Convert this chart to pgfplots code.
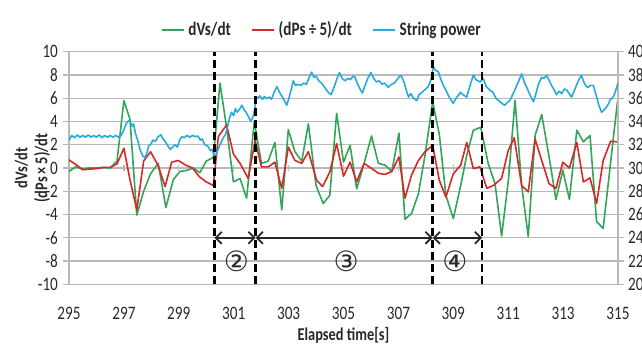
\documentclass[border=0pt]{standalone}
\usepackage{pgfplots}
\pgfplotsset{compat=1.18}
\usepackage{fontspec}
\setmainfont{Carlito}[FakeStretch=0.8]
\newfontfamily\dejavu{DejaVu Sans}
\usetikzlibrary{arrows.meta}
\definecolor{cgreen}{RGB}{50,165,90}
\definecolor{cred}{RGB}{215,40,40}
\definecolor{cblue}{RGB}{40,170,220}
\definecolor{cgrid}{RGB}{185,185,185}
\definecolor{ctext}{RGB}{40,40,40}

\pgfplotstableread{
t v
295.0 -0.3
295.25 0.1
295.5 -0.1
295.75 0.0
296.0 0.0
296.25 0.05
296.5 0.0
296.75 0.6
297.0 5.8
297.22 4.2
297.47 -4.05
297.72 -2.0
297.97 -0.5
298.25 0.4
298.53 -3.4
298.8 -1.0
299.04 -0.3
299.3 -0.2
299.53 0.0
299.77 -0.4
300.0 0.6
300.26 0.9
300.5 7.3
300.74 3.5
300.99 -1.2
301.23 -0.9
301.47 -2.6
301.75 4.0
302.01 0.4
302.26 0.6
302.5 2.2
302.75 -3.6
302.99 3.3
303.23 1.4
303.48 0.6
303.72 3.8
304.0 -1.5
304.26 -3.05
304.5 -2.35
304.75 4.7
305.0 0.5
305.24 1.95
305.48 -1.8
305.75 0.4
306.02 2.75
306.27 0.4
306.51 0.25
306.76 -0.3
307.02 3.0
307.24 -4.4
307.48 -3.9
307.73 -2.2
307.97 1.1
308.25 5.7
308.49 2.9
308.73 -2.35
309.0 -4.35
309.27 -1.5
309.49 1.1
309.73 3.25
310.0 3.5
310.27 0.4
310.52 -1.35
310.76 -5.85
311.0 -1.2
311.25 5.8
311.49 -1.5
311.73 -5.9
311.98 2.8
312.22 4.6
312.49 0.95
312.74 -2.7
312.99 -0.2
313.23 -2.7
313.5 3.25
313.74 2.25
313.98 2.8
314.22 -4.6
314.46 -5.2
314.98 5.7
}\dvs

\pgfplotstableread{
t v
295.0 0.7
295.25 0.3
295.5 -0.15
295.75 -0.1
296.0 -0.05
296.25 0.05
296.5 0.05
296.75 0.35
297.0 1.7
297.22 -1.0
297.47 -3.6
297.72 0.6
297.97 1.4
298.25 0.2
298.5 -1.6
298.74 0.5
298.98 0.65
299.25 0.25
299.5 0.0
299.75 -0.75
300.0 -1.2
300.26 -1.5
300.44 2.7
300.74 3.7
300.99 1.2
301.23 0.4
301.53 -0.9
301.78 2.4
302.01 0.1
302.26 0.1
302.5 0.5
302.75 -1.75
302.99 1.8
303.23 0.65
303.48 0.4
303.72 1.4
304.02 -1.05
304.24 -1.6
304.5 -0.35
304.75 2.1
305.0 -0.7
305.24 0.5
305.48 -1.2
305.75 0.4
306.03 -0.05
306.27 -0.45
306.51 -0.55
306.76 -0.3
307.02 0.95
307.24 -2.6
307.48 -0.6
307.73 0.65
307.97 1.4
308.25 1.95
308.49 -1.05
308.73 -2.5
309.0 -0.5
309.27 0.25
309.49 2.2
309.73 -0.05
309.97 0.1
310.22 -1.75
310.46 -1.5
310.76 -0.9
311.0 1.5
311.22 2.6
311.49 -1.5
311.73 -2.05
311.98 2.5
312.22 0.65
312.49 -1.35
312.74 -1.75
312.99 0.5
313.23 0.0
313.5 2.2
313.74 -1.2
313.98 -0.85
314.22 -3.05
314.46 0.65
314.73 2.3
314.98 2.25
}\dps

\pgfplotstableread{
t p
295.0 32.4
295.1 32.8
295.2 32.6
295.3 32.85
295.4 32.65
295.5 32.8
295.6 32.65
295.7 32.85
295.8 32.65
295.9 32.8
296.0 32.65
296.1 32.85
296.2 32.6
296.3 32.8
296.4 32.65
296.5 32.8
296.6 32.65
296.7 32.8
296.8 32.65
296.9 32.8
297.0 33.3
297.1 33.9
297.2 34.1
297.3 33.6
297.35 33.8
297.42 33.0
297.5 32.4
297.6 31.5
297.7 31.0
297.78 30.9
297.85 31.4
297.9 31.9
298.0 32.1
298.05 32.4
298.15 32.3
298.25 32.7
298.35 32.85
298.4 32.6
298.5 32.3
298.6 31.9
298.69 31.6
298.8 31.85
298.87 32.0
298.95 31.8
299.05 32.5
299.12 32.7
299.2 32.6
299.3 32.8
299.4 32.65
299.5 32.8
299.6 32.7
299.7 32.75
299.78 32.4
299.85 32.5
299.95 32.0
300.05 31.9
300.15 31.5
300.22 31.6
300.3 30.9
300.38 31.3
300.45 31.7
300.52 32.1
300.6 32.5
300.7 32.9
300.78 33.6
300.85 34.3
300.92 34.8
301.0 34.5
301.06 35.1
301.12 34.8
301.2 35.0
301.3 35.4
301.38 35.0
301.45 34.8
301.54 34.4
301.62 34.0
301.7 34.4
301.78 35.2
301.8 36.1
301.88 36.0
301.95 36.2
302.05 35.9
302.12 36.15
302.2 35.95
302.3 36.1
302.38 35.9
302.47 36.5
302.57 37.0
302.65 36.6
302.72 36.3
302.8 36.0
302.93 35.4
303.0 35.9
303.1 36.8
303.17 37.5
303.25 37.1
303.35 37.2
303.45 37.1
303.55 37.3
303.65 37.2
303.75 37.8
303.84 38.25
303.92 37.8
304.0 37.9
304.1 37.5
304.2 37.3
304.27 37.1
304.35 36.8
304.45 36.5
304.55 36.3
304.65 36.9
304.75 37.6
304.85 38.2
304.95 37.7
305.06 37.5
305.15 37.7
305.25 37.6
305.35 37.9
305.42 37.8
305.5 37.3
305.6 36.8
305.69 36.45
305.8 37.2
305.9 37.8
306.0 38.2
306.1 37.7
306.2 37.4
306.3 37.5
306.4 37.2
306.5 37.3
306.63 36.95
306.75 37.2
306.85 37.3
306.95 37.6
307.05 37.9
307.1 37.95
307.2 37.4
307.3 36.6
307.37 36.1
307.45 36.4
307.55 36.0
307.67 35.8
307.75 36.3
307.85 36.5
307.95 36.7
308.09 37.0
308.2 37.7
308.27 38.7
308.35 38.4
308.45 38.3
308.55 37.6
308.64 37.1
308.75 36.6
308.85 36.1
308.93 35.8
309.0 35.55
309.1 36.0
309.2 36.3
309.26 36.5
309.35 36.3
309.49 36.1
309.6 37.0
309.73 38.0
309.82 37.6
309.9 37.5
309.97 37.4
310.09 37.7
310.2 37.0
310.33 36.7
310.45 36.5
310.55 36.0
310.7 35.7
310.8 35.5
310.88 35.4
310.95 35.6
311.06 35.8
311.2 36.5
311.35 37.3
311.49 38.1
311.6 37.3
311.7 36.8
311.79 36.3
311.92 35.7
312.0 36.3
312.1 37.2
312.22 37.8
312.3 37.7
312.4 37.95
312.5 37.5
312.58 37.1
312.68 36.7
312.76 36.3
312.85 36.6
312.95 36.4
313.05 36.8
313.13 36.7
313.22 36.4
313.31 36.1
313.4 36.6
313.5 37.2
313.6 37.7
313.67 37.95
313.75 37.4
313.85 37.0
313.92 36.95
314.0 37.1
314.1 37.1
314.2 36.3
314.3 35.4
314.4 34.8
314.5 35.0
314.58 35.25
314.65 35.5
314.72 35.9
314.77 35.95
314.85 36.2
314.92 36.7
315.0 37.3
}\spow

\begin{document}
\begin{tikzpicture}
\path[use as bounding box] (-34.5pt,-30.35pt) rectangle (286.5pt,142.15pt);
\begin{axis}[
  at={(0,0)}, anchor=south west,
  scale only axis, width=274.5pt, height=116.3pt,
  xmin=295, xmax=315, ymin=-10, ymax=10,
  xtick={295,297,...,315}, ytick={-10,-8,...,10},
  ymajorgrids, grid style={cgrid, line width=0.6pt},
  axis line style={cgrid, line width=0.6pt},
  xtick pos=bottom, ytick pos=left,
  xtick style={draw=none},
  ytick style={cgrid, line width=0.6pt},
  tick align=outside, major tick length=3pt,
  /pgf/number format/assume math mode=true,
  /pgf/number format/1000 sep={},
  tick label style={font=\fontsize{9.5}{10}\selectfont, text=ctext},
  xticklabel style={yshift=-5pt},
  yticklabel style={xshift=1pt},
  xlabel={\bfseries Elapsed time[s]},
  xlabel style={font=\fontsize{9}{10}\selectfont, text=ctext, yshift=3pt},
  ylabel={\bfseries dVs/dt\\\bfseries (dPs\,×\,5)/dt},
  ylabel style={font=\fontsize{9}{10}\selectfont, text=ctext, align=center, yshift=-13pt},
]
\pgfplotsinvokeforeach{297,299,...,313}{
  \draw[cgrid, line width=0.6pt] (axis cs:#1,-0.25) -- (axis cs:#1,0.25);
}
\addplot[cgreen, line width=0.8pt, line join=round] table[x=t,y=v] {\dvs};
\addplot[cred, line width=0.8pt, line join=round] table[x=t,y=v] {\dps};
\end{axis}
\begin{axis}[
  at={(0,0)}, anchor=south west,
  scale only axis, width=274.5pt, height=116.3pt,
  xmin=295, xmax=315, ymin=20, ymax=40,
  axis x line=none,
  axis y line*=right,
  ytick={20,22,...,40},
  axis line style={cgrid, line width=0.6pt, -},
  ytick style={cgrid, line width=0.6pt},
  tick align=outside, major tick length=3pt,
  /pgf/number format/assume math mode=true,
  tick label style={font=\fontsize{9.5}{10}\selectfont, text=ctext},
  yticklabel style={xshift=-1.5pt},
  legend columns=3,
  legend style={draw=none, fill=none, at={(0.462,1.093)}, anchor=center,
    font=\fontsize{9.5}{10}\selectfont\bfseries, text=ctext,
    /tikz/every even column/.append style={column sep=8pt}},
  legend image code/.code={\draw[#1, line width=0.9pt] (0pt,0pt) -- (11pt,0pt);},
]
\addlegendimage{cgreen}
\addlegendentry{dVs/dt}
\addlegendimage{cred}
\addlegendentry{(dPs\,÷\,5)/dt}
\addplot[cblue, line width=0.8pt, line join=round] table[x=t,y=p] {\spow};
\addlegendentry{String power}
\pgfplotsinvokeforeach{300.3,301.8,308.25,310.05}{
  \draw[black, line width=1.3pt, dash pattern=on 4pt off 2pt] (axis cs:#1,20) -- (axis cs:#1,40);
}
\draw[{Straight Barb[length=3pt,width=6pt]}-{Straight Barb[length=3pt,width=6pt]}, line width=0.9pt, ctext] (axis cs:300.3,24) -- (axis cs:301.8,24);
\draw[{Straight Barb[length=3pt,width=6pt]}-{Straight Barb[length=3pt,width=6pt]}, line width=0.9pt, ctext] (axis cs:301.8,24) -- (axis cs:308.25,24);
\draw[{Straight Barb[length=3pt,width=6pt]}-{Straight Barb[length=3pt,width=6pt]}, line width=0.9pt, ctext] (axis cs:308.25,24) -- (axis cs:310.05,24);
\node[text=ctext, inner sep=0pt] at (axis cs:301.1,22) {\dejavu\fontsize{14}{14}\selectfont ②};
\node[text=ctext, inner sep=0pt] at (axis cs:305.1,22) {\dejavu\fontsize{14}{14}\selectfont ③};
\node[text=ctext, inner sep=0pt] at (axis cs:309.06,22) {\dejavu\fontsize{14}{14}\selectfont ④};
\end{axis}
\end{tikzpicture}
\end{document}
